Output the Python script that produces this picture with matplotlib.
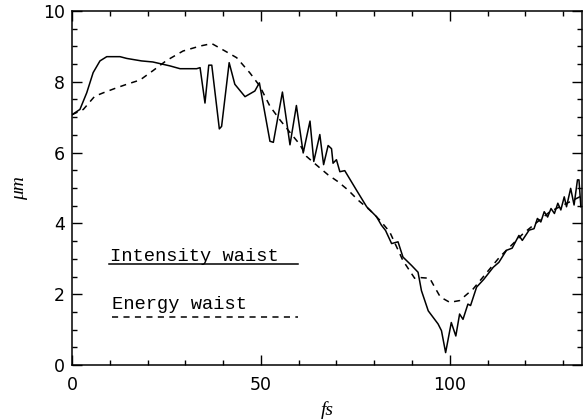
import matplotlib
matplotlib.use("Agg")
import matplotlib.pyplot as plt
from matplotlib.ticker import MultipleLocator

# intensity waist (solid)
x_int = [0, 2.1, 3.9, 5.6, 7.4, 9.2, 12.7, 14.5, 18.4, 21.4, 25.9, 28.6, 33.0, 33.9,
         35.2, 36.2, 37.0, 39.0, 39.6, 41.6, 43.1, 45.8, 48.4, 49.6, 52.4, 53.3,
         55.7, 57.7, 59.4, 61.2, 63.0, 64.0, 65.6, 66.6, 67.8, 68.7, 69.1, 70.0,
         70.9, 72.2, 75.3, 78.0, 80.6, 81.9, 83.0, 84.6, 86.3, 87.6, 89.9, 91.6,
         92.5, 94.3, 96.9, 97.8, 98.9, 100.4, 101.6, 102.6, 103.5, 104.8, 105.5,
         107.1, 109.0, 111.5, 113.0, 115.0, 116.5, 118.3, 119.2, 121.0, 122.3,
         123.2, 124.1, 125.0, 125.9, 126.8, 127.7, 128.6, 129.4, 130.3, 130.9,
         132.0, 132.9, 133.8, 134.2, 134.7]
y_int = [7.07, 7.22, 7.69, 8.26, 8.59, 8.71, 8.71, 8.66, 8.59, 8.56, 8.45, 8.37, 8.37, 8.40,
         7.40, 8.47, 8.47, 6.67, 6.74, 8.54, 7.93, 7.58, 7.74, 7.97, 6.32, 6.29,
         7.71, 6.22, 7.33, 5.99, 6.89, 5.75, 6.51, 5.66, 6.20, 6.11, 5.70, 5.80,
         5.46, 5.49, 4.94, 4.47, 4.19, 3.95, 3.80, 3.43, 3.48, 3.05, 2.81, 2.62,
         2.10, 1.53, 1.16, 0.97, 0.35, 1.20, 0.82, 1.44, 1.29, 1.72, 1.68,
         2.20, 2.42, 2.76, 2.90, 3.24, 3.30, 3.66, 3.52, 3.81, 3.85,
         4.14, 4.04, 4.33, 4.18, 4.42, 4.28, 4.57, 4.38, 4.75, 4.47,
         4.99, 4.52, 5.23, 5.23, 4.47]

# energy waist (dashed)
x_en = [0, 3.0, 6.0, 8.3, 11.8, 14.5, 18.0, 21.5, 25.0, 29.4, 33.9, 37.0, 40.5,
        43.6, 47.1, 49.7, 52.4, 55.0, 57.7, 60.3, 62.1, 64.7, 67.8, 70.4, 73.1,
        75.7, 78.8, 81.5, 84.1, 87.6, 90.7, 92.1, 94.7, 96.0, 97.5, 100.0, 102.6,
        106.2, 113.2, 119.4, 126.5, 134.4, 135.0]
y_en = [7.07, 7.22, 7.59, 7.69, 7.83, 7.93, 8.05, 8.32, 8.60, 8.87, 9.01, 9.08, 8.87,
        8.68, 8.25, 7.88, 7.31, 6.93, 6.57, 6.23, 5.89, 5.65, 5.37, 5.18, 4.94,
        4.66, 4.38, 4.09, 3.76, 2.95, 2.45, 2.47, 2.45, 2.20, 1.92, 1.77, 1.82,
        2.15, 3.05, 3.71, 4.33, 4.75, 4.80]

labels = ["Intensity waist", "Energy waist"]

plt.rcParams["font.family"] = "DejaVu Sans"

fig = plt.figure(figsize=(5.83, 4.19), dpi=100)
ax = fig.add_axes([72 / 583, 1 - 365 / 419, 510 / 583, 354 / 419])

ax.plot(x_int, y_int, color="black", lw=1.1)
ax.plot(x_en, y_en, color="black", lw=1.1, linestyle=(0, (4, 3.5)))

ax.set_xlim(0, 135)
ax.set_ylim(0, 10)
ax.xaxis.set_major_locator(MultipleLocator(50))
ax.xaxis.set_minor_locator(MultipleLocator(10))
ax.yaxis.set_major_locator(MultipleLocator(2))
ax.yaxis.set_minor_locator(MultipleLocator(0.5))
ax.tick_params(which="both", direction="in", top=True, right=True, width=1.0, labelsize=12.5)
ax.tick_params(which="major", length=7)
ax.tick_params(which="minor", length=3.5)
ax.tick_params(axis="x", pad=8)
ax.tick_params(axis="y", pad=5)
for s in ax.spines.values():
    s.set_linewidth(1.1)

ax.set_xlabel("fs", fontfamily="Liberation Serif", style="italic", fontsize=14, labelpad=5)
ax.set_ylabel("μm", fontfamily="Liberation Serif", style="italic", fontsize=14, labelpad=11)

# hand-made legend: text with an underline in the line style
ax.text(0.075, 0.294, labels[0], transform=ax.transAxes, fontfamily="Liberation Mono",
        fontsize=13.5, va="baseline", ha="left")
ax.plot([0.072, 0.443], [0.284, 0.284], transform=ax.transAxes, color="black", lw=1.1)
ax.text(0.078, 0.158, labels[1], transform=ax.transAxes, fontfamily="Liberation Mono",
        fontsize=13.5, va="baseline", ha="left")
ax.plot([0.078, 0.443], [0.136, 0.136], transform=ax.transAxes, color="black", lw=1.1,
        linestyle=(0, (4, 3.5)))

fig.savefig("out.png", dpi=100)
